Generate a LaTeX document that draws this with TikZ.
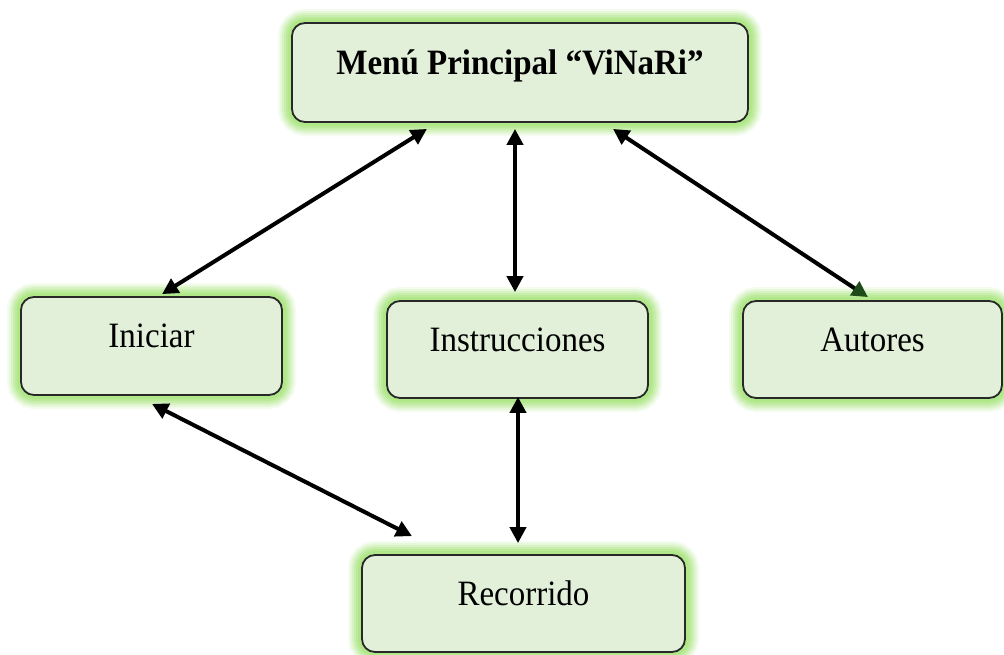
\documentclass[tikz,border=0pt]{standalone}
\usepackage{fontspec}
\setmainfont{Liberation Serif}
\usetikzlibrary{arrows.meta,calc}

\definecolor{boxfill}{RGB}{226,239,217}
\definecolor{boxline}{RGB}{40,40,40}
\definecolor{glowgreen}{RGB}{168,230,125}
\definecolor{tipgreen}{RGB}{30,75,25}

\tikzset{
  menubox/.style={
    rectangle, rounded corners=13pt, draw=boxline, line width=1.8pt,
    fill=boxfill, inner sep=0pt, text height=25pt, text depth=22pt,
    font=\fontsize{33}{40}\selectfont,
    preaction={draw=glowgreen, line width=28pt, opacity=0.12},
    preaction={draw=glowgreen, line width=24pt, opacity=0.18},
    preaction={draw=glowgreen, line width=20pt, opacity=0.24},
    preaction={draw=glowgreen, line width=16pt, opacity=0.3},
    preaction={draw=glowgreen, line width=12pt, opacity=0.4},
    preaction={draw=glowgreen, line width=8pt, opacity=0.55}
  },
  link/.style={line width=4pt, draw=black,
    {Triangle[length=16pt,width=16pt]}-{Triangle[length=16pt,width=16pt]}}
}
\newcommand{\boxtext}[1]{\scalebox{1}[1.08]{#1}}

\begin{document}
\begin{tikzpicture}[x=1pt,y=-1pt]
  \useasboundingbox[fill=white] (0,0) rectangle (1004,654);

  % menu boxes
  \node[menubox, minimum width=456pt, minimum height=99pt] (menu) at (520,72.5)
    {\boxtext{\bfseries Menú Principal “ViNaRi”}};
  \node[menubox, minimum width=261pt, minimum height=98pt] (ini) at (151.5,346)
    {\boxtext{Iniciar}};
  \node[menubox, minimum width=261pt, minimum height=97pt] (ins) at (517.5,349.5)
    {\boxtext{Instrucciones}};
  \node[menubox, minimum width=259pt, minimum height=97pt] (aut) at (872.5,349.5)
    {\boxtext{Autores}};
  \node[menubox, minimum width=323pt, minimum height=97pt] (rec) at (523.5,603.5)
    {\boxtext{Recorrido}};

  % two-way links
  \draw[link] ($(menu.south)+(-93,6)$) -- ($(ini.north)+(10.5,-2)$);
  \draw[link] ($(menu.south)+(-5,6)$) -- ($(ins.north)+(-2.5,-8)$);
  \draw[line width=4pt,
    {Triangle[length=16pt,width=16pt]}-{Triangle[length=16pt,width=16pt,color=tipgreen]}]
    ($(menu.south)+(93,6)$) -- ($(aut.north)+(-4.5,-3)$);
  \draw[link] ($(ini.south)+(0.5,8)$) -- ($(rec.north)+(-111.5,-18)$);
  \draw[link] ($(ins.south)+(0.5,-2)$) -- ($(rec.north)+(-5.5,-11)$);
\end{tikzpicture}
\end{document}
